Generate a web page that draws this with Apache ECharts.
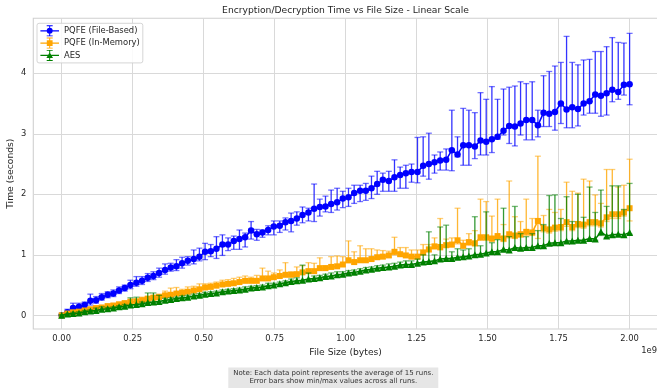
<!DOCTYPE html>
<html>
<head>
<meta charset="utf-8">
<script src="https://cdn.jsdelivr.net/npm/echarts@6/dist/echarts.min.js"></script>
<style>
html,body{margin:0;padding:0;background:#fff;}
#chart{width:657px;height:388px;}
</style>
</head>
<body>
<div id="chart"></div>
<script>
// File sizes in units of 1e9 bytes
const fileSizes = [
0.000,0.020,0.040,0.061,0.081,0.101,0.121,0.141,0.162,0.182,
0.202,0.222,0.242,0.263,0.283,0.303,0.323,0.343,0.364,0.384,
0.404,0.424,0.444,0.465,0.485,0.505,0.525,0.545,0.566,0.586,
0.606,0.626,0.646,0.667,0.687,0.707,0.727,0.747,0.768,0.788,
0.808,0.828,0.848,0.869,0.889,0.909,0.929,0.949,0.970,0.990,
1.010,1.030,1.051,1.071,1.091,1.111,1.131,1.152,1.172,1.192,
1.212,1.232,1.253,1.273,1.293,1.313,1.333,1.354,1.374,1.394,
1.414,1.434,1.455,1.475,1.495,1.515,1.535,1.556,1.576,1.596,
1.616,1.636,1.657,1.677,1.697,1.717,1.737,1.758,1.778,1.798,
1.818,1.838,1.859,1.879,1.899,1.919,1.939,1.960,1.980,2.000];

const fileMean = [
0.00,0.05,0.12,0.14,0.17,0.24,0.25,0.30,0.34,0.36,
0.41,0.45,0.50,0.54,0.57,0.62,0.65,0.70,0.75,0.79,
0.81,0.86,0.90,0.93,0.97,1.05,1.06,1.10,1.17,1.17,
1.23,1.26,1.29,1.40,1.34,1.37,1.41,1.47,1.48,1.54,
1.56,1.60,1.66,1.70,1.76,1.79,1.80,1.84,1.87,1.93,
1.95,2.02,2.06,2.06,2.10,2.17,2.24,2.22,2.28,2.32,
2.35,2.37,2.37,2.47,2.50,2.53,2.56,2.57,2.73,2.66,
2.81,2.81,2.79,2.89,2.87,2.91,2.95,3.05,3.13,3.12,
3.17,3.23,3.23,3.14,3.35,3.33,3.36,3.50,3.40,3.44,
3.41,3.50,3.54,3.65,3.63,3.67,3.73,3.69,3.81,3.82];
const fileMin = [
0.00,0.02,0.07,0.10,0.12,0.17,0.20,0.25,0.29,0.31,
0.36,0.40,0.44,0.48,0.51,0.56,0.59,0.63,0.68,0.73,
0.74,0.78,0.83,0.85,0.90,0.92,0.97,0.94,0.99,1.07,
1.09,1.09,1.13,1.26,1.24,1.29,1.33,1.33,1.37,1.41,
1.38,1.49,1.53,1.56,1.55,1.64,1.71,1.70,1.74,1.78,
1.80,1.85,1.88,1.90,1.93,2.00,2.05,2.05,2.05,2.10,
2.10,2.20,2.19,2.30,2.25,2.35,2.40,2.40,2.39,2.62,
2.48,2.48,2.59,2.65,2.65,2.69,2.91,2.98,2.84,2.80,
2.98,2.90,2.90,2.95,3.12,3.12,3.06,3.17,3.10,3.10,
3.13,3.31,3.34,3.34,3.29,3.31,3.53,3.57,3.64,3.48];
const fileMax = [
0.01,0.10,0.20,0.20,0.22,0.35,0.31,0.36,0.39,0.42,
0.47,0.50,0.58,0.64,0.64,0.69,0.72,0.78,0.85,0.86,
0.92,0.96,0.97,1.08,1.11,1.19,1.17,1.30,1.33,1.28,
1.31,1.41,1.36,1.55,1.42,1.41,1.48,1.56,1.56,1.61,
1.69,1.71,1.79,1.77,2.17,1.92,1.97,2.07,2.10,2.05,
2.10,2.15,2.15,2.18,2.30,2.38,2.35,2.38,2.57,2.45,
2.48,2.50,2.94,2.95,3.01,2.65,2.70,2.75,3.39,2.95,
3.42,3.39,3.35,3.68,3.57,3.78,3.57,3.74,3.77,3.79,
3.86,3.83,3.86,3.39,3.96,4.03,4.12,4.18,4.61,4.18,
4.14,4.22,4.23,4.36,4.36,4.44,4.59,4.51,4.50,4.66];

const memMean = [
0.00,0.03,0.05,0.06,0.08,0.10,0.12,0.13,0.15,0.16,
0.18,0.20,0.22,0.23,0.25,0.27,0.29,0.30,0.33,0.34,
0.36,0.37,0.39,0.41,0.43,0.46,0.47,0.49,0.51,0.52,
0.53,0.55,0.57,0.57,0.57,0.61,0.61,0.63,0.65,0.67,
0.67,0.68,0.71,0.73,0.73,0.78,0.78,0.80,0.81,0.84,
0.91,0.88,0.91,0.91,0.93,0.96,0.97,0.99,1.05,1.01,
0.99,0.97,0.97,1.04,1.09,1.14,1.13,1.16,1.17,1.24,
1.15,1.21,1.19,1.29,1.29,1.27,1.31,1.27,1.34,1.32,
1.34,1.38,1.37,1.56,1.44,1.42,1.45,1.46,1.54,1.46,
1.51,1.50,1.54,1.54,1.52,1.62,1.67,1.67,1.70,1.77];
const memMin = [
0.00,0.02,0.04,0.05,0.07,0.09,0.10,0.12,0.13,0.15,
0.17,0.18,0.20,0.22,0.23,0.25,0.27,0.29,0.31,0.32,
0.34,0.36,0.37,0.39,0.41,0.44,0.45,0.47,0.49,0.50,
0.51,0.53,0.55,0.55,0.55,0.58,0.59,0.61,0.63,0.64,
0.65,0.66,0.69,0.70,0.71,0.75,0.76,0.77,0.79,0.81,
0.87,0.85,0.88,0.88,0.90,0.93,0.94,0.96,1.00,0.98,
0.96,0.94,0.94,1.00,1.05,1.10,1.08,1.12,1.13,1.18,
1.11,1.16,1.15,1.24,1.24,1.22,1.26,1.22,1.28,1.27,
1.29,1.32,1.32,1.27,1.38,1.36,1.39,1.40,1.47,1.40,
1.45,1.44,1.48,1.48,1.46,1.55,1.60,1.60,1.64,1.56];
const memMax = [
0.01,0.05,0.07,0.09,0.10,0.13,0.15,0.16,0.19,0.20,
0.22,0.24,0.27,0.27,0.30,0.32,0.33,0.35,0.40,0.45,
0.46,0.43,0.47,0.48,0.52,0.52,0.53,0.55,0.58,0.59,
0.61,0.63,0.65,0.63,0.66,0.78,0.73,0.70,0.75,0.87,
0.72,0.80,0.82,0.87,0.86,0.95,0.82,0.97,0.98,0.97,
1.23,1.05,1.15,1.10,1.10,1.08,1.07,1.06,1.29,1.12,
1.12,1.08,1.08,1.17,1.17,1.28,1.60,1.26,1.28,1.77,
1.24,1.35,1.40,1.92,1.88,1.64,1.92,1.50,2.22,1.63,
1.55,1.92,1.60,2.63,1.65,1.75,1.70,1.75,2.20,2.05,
2.02,2.25,2.22,1.99,1.85,2.41,2.41,2.12,2.15,2.58];

const aesMean = [
0.00,0.02,0.03,0.04,0.06,0.07,0.08,0.10,0.11,0.12,
0.14,0.15,0.17,0.18,0.19,0.21,0.22,0.23,0.25,0.26,
0.28,0.29,0.30,0.32,0.33,0.35,0.36,0.37,0.39,0.40,
0.41,0.42,0.43,0.45,0.46,0.47,0.49,0.50,0.52,0.54,
0.56,0.57,0.58,0.60,0.61,0.62,0.64,0.65,0.67,0.68,
0.70,0.71,0.73,0.75,0.76,0.78,0.79,0.80,0.81,0.83,
0.84,0.84,0.86,0.88,0.89,0.90,0.93,0.94,0.94,0.96,
0.97,0.98,1.00,1.01,1.03,1.05,1.05,1.09,1.08,1.12,
1.11,1.12,1.12,1.15,1.15,1.19,1.20,1.20,1.23,1.23,
1.24,1.24,1.27,1.26,1.38,1.31,1.33,1.34,1.33,1.37];
const aesMin = [
0.00,0.01,0.02,0.03,0.05,0.06,0.07,0.09,0.10,0.11,
0.13,0.14,0.16,0.17,0.18,0.20,0.21,0.22,0.24,0.25,
0.27,0.28,0.29,0.31,0.32,0.34,0.35,0.36,0.38,0.39,
0.40,0.41,0.42,0.44,0.45,0.46,0.48,0.49,0.51,0.53,
0.55,0.56,0.57,0.59,0.60,0.61,0.63,0.64,0.66,0.67,
0.69,0.70,0.72,0.74,0.75,0.77,0.78,0.79,0.80,0.82,
0.83,0.83,0.85,0.87,0.88,0.89,0.91,0.92,0.93,0.95,
0.96,0.97,0.98,0.99,1.01,1.03,1.03,1.06,1.06,1.10,
1.09,1.10,1.10,1.13,1.13,1.17,1.18,1.18,1.21,1.21,
1.22,1.22,1.25,1.24,1.32,1.28,1.30,1.31,1.30,1.34];
const aesMax = [
0.01,0.03,0.05,0.06,0.08,0.09,0.12,0.14,0.13,0.14,
0.16,0.18,0.29,0.30,0.22,0.37,0.37,0.33,0.28,0.29,
0.30,0.32,0.33,0.35,0.36,0.38,0.39,0.40,0.42,0.43,
0.44,0.45,0.47,0.48,0.49,0.50,0.53,0.53,0.55,0.57,
0.60,0.62,0.83,0.70,0.65,0.66,0.68,0.70,0.72,0.72,
0.74,0.75,0.77,0.79,0.80,0.82,0.83,0.85,0.86,0.88,
0.90,0.90,0.93,1.00,1.38,1.00,1.46,1.49,1.05,1.10,
1.08,1.10,1.63,1.15,1.71,1.20,1.25,1.77,1.30,1.80,
1.35,1.30,1.35,1.40,1.50,1.98,1.99,1.60,1.96,1.55,
2.00,1.62,2.12,1.70,2.07,1.80,2.14,2.14,1.75,2.18];

const seriesNames = ['PQFE (File-Based)', 'PQFE (In-Memory)', 'AES'];
const xTicks = [0, 0.25, 0.5, 0.75, 1.0, 1.25, 1.5, 1.75, 2.0];
const yTicks = [0, 1, 2, 3, 4];

const FONT = 'DejaVu Sans';
const TXT = '#262626';

function pairs(ys) { return fileSizes.map((x, i) => [x, ys[i]]); }
function triples(lo, hi) { return fileSizes.map((x, i) => [x, lo[i], hi[i]]); }

function errRender(color) {
  return function (params, api) {
    const x = api.value(0), lo = api.value(1), hi = api.value(2);
    const a = api.coord([x, hi]);
    const b = api.coord([x, lo]);
    const w = 3;
    return {
      type: 'group',
      children: [
        { type: 'line', shape: { x1: a[0], y1: a[1], x2: b[0], y2: b[1] },
          style: { stroke: color, lineWidth: 1.3, opacity: 0.8 } },
        { type: 'line', shape: { x1: a[0] - w, y1: a[1], x2: a[0] + w, y2: a[1] },
          style: { stroke: color, lineWidth: 1.3, opacity: 0.55 } },
        { type: 'line', shape: { x1: b[0] - w, y1: b[1], x2: b[0] + w, y2: b[1] },
          style: { stroke: color, lineWidth: 1.3, opacity: 0.55 } }
      ]
    };
  };
}

const colors = ['#0000ff', '#ffa500', '#008000'];
const symbols = ['circle', 'rect', 'triangle'];
const means = [fileMean, memMean, aesMean];
const mins = [fileMin, memMin, aesMin];
const maxs = [fileMax, memMax, aesMax];

const baseIcon = 'M0 4.9H18.6V6.1H0Z M8.8 0H9.8V11H8.8Z M6.3 0H12.3V0.9H6.3Z M6.3 10.1H12.3V11H6.3Z ';
const icons = [
  'path://' + baseIcon + 'M6.3 5.5A3 3 0 1 1 12.3 5.5A3 3 0 1 1 6.3 5.5Z',
  'path://' + baseIcon + 'M6.4 2.6H12.2V8.4H6.4Z',
  'path://' + baseIcon + 'M9.3 2.3L12.6 8.2L6.0 8.2Z'
];

const series = [];
for (let k = 0; k < 3; k++) {
  series.push({
    type: 'custom',
    name: seriesNames[k] + ' err',
    renderItem: errRender(colors[k]),
    data: triples(mins[k], maxs[k]),
    encode: { x: 0, y: [1, 2] },
    z: 2 + k * 2,
    silent: true
  });
  series.push({
    type: 'line',
    name: seriesNames[k],
    data: pairs(means[k]),
    symbol: symbols[k],
    symbolSize: k === 0 ? 6.5 : (k === 1 ? 6 : 7),
    showSymbol: true,
    color: colors[k],
    lineStyle: { width: 1.5, color: colors[k] },
    itemStyle: { color: colors[k], borderWidth: 0 },
    z: 3 + k * 2,
    animation: false
  });
}

const chart = echarts.init(document.getElementById('chart'), null, { renderer: 'canvas' });
chart.setOption({
  animation: false,
  backgroundColor: '#ffffff',
  textStyle: { fontFamily: FONT },
  title: {
    text: 'Encryption/Decryption Time vs File Size - Linear Scale',
    left: 345.5, top: 6, textAlign: 'center', padding: 0,
    textStyle: { fontFamily: FONT, fontSize: 9.2, fontWeight: 'normal', color: TXT }
  },
  legend: {
    orient: 'vertical',
    left: 37, top: 23.3,
    padding: [2, 3, 2, 3.4],
    itemWidth: 18.6, itemHeight: 11, itemGap: 1.3,
    backgroundColor: 'rgba(255,255,255,0.85)',
    borderColor: '#cccccc', borderWidth: 0.8, borderRadius: 2,
    textStyle: { fontFamily: FONT, fontSize: 8.4, color: TXT },
    itemStyle: { borderWidth: 0 },
    data: seriesNames.map((n, k) => ({ name: n, icon: icons[k] }))
  },
  grid: {
    left: 33.3, top: 18.3, right: -1, bottom: 59,
    containLabel: false, outerBoundsMode: 'none',
    show: true, borderColor: '#d0d0d0', borderWidth: 1.1, backgroundColor: '#ffffff'
  },
  xAxis: {
    type: 'value', min: -0.1, max: 2.1,
    name: 'File Size (bytes)', nameLocation: 'middle', nameGap: 19,
    nameTextStyle: { fontFamily: FONT, fontSize: 9.2, color: TXT },
    axisLine: { show: false },
    axisTick: { show: false, customValues: xTicks },
    axisLabel: { customValues: xTicks, margin: 6, fontFamily: FONT, fontSize: 8.4, color: TXT,
      formatter: v => v.toFixed(2) },
    splitLine: { show: true, lineStyle: { color: '#d9d9d9', width: 1 } }
  },
  yAxis: {
    type: 'value', min: -0.226, max: 4.909,
    name: 'Time (seconds)', nameLocation: 'middle', nameGap: 18.5, nameMoveOverlap: false,
    nameTextStyle: { fontFamily: FONT, fontSize: 9.2, color: TXT },
    axisLine: { show: false },
    axisTick: { show: false, customValues: yTicks },
    axisLabel: { customValues: yTicks, margin: 7, fontFamily: FONT, fontSize: 8.4, color: TXT,
      formatter: v => String(Math.round(v)) },
    splitLine: { show: true, lineStyle: { color: '#d9d9d9', width: 1 } }
  },
  graphic: [
    { type: 'text', right: 0, top: 347,
      style: { text: '1e9', font: '8.4px "DejaVu Sans"', fill: TXT } },
    { type: 'rect', left: 228.3, top: 367.5, shape: { width: 210, height: 25 },
      style: { fill: '#e6e6e6' } },
    { type: 'text', x: 333.3, y: 369.6,
      style: { text: 'Note: Each data point represents the average of 15 runs.\nError bars show min/max values across all runs.',
        font: '7px "DejaVu Sans"', fill: '#333333', align: 'center', verticalAlign: 'top', lineHeight: 7.8 } }
  ],
  series: series
});
</script>
</body>
</html>
